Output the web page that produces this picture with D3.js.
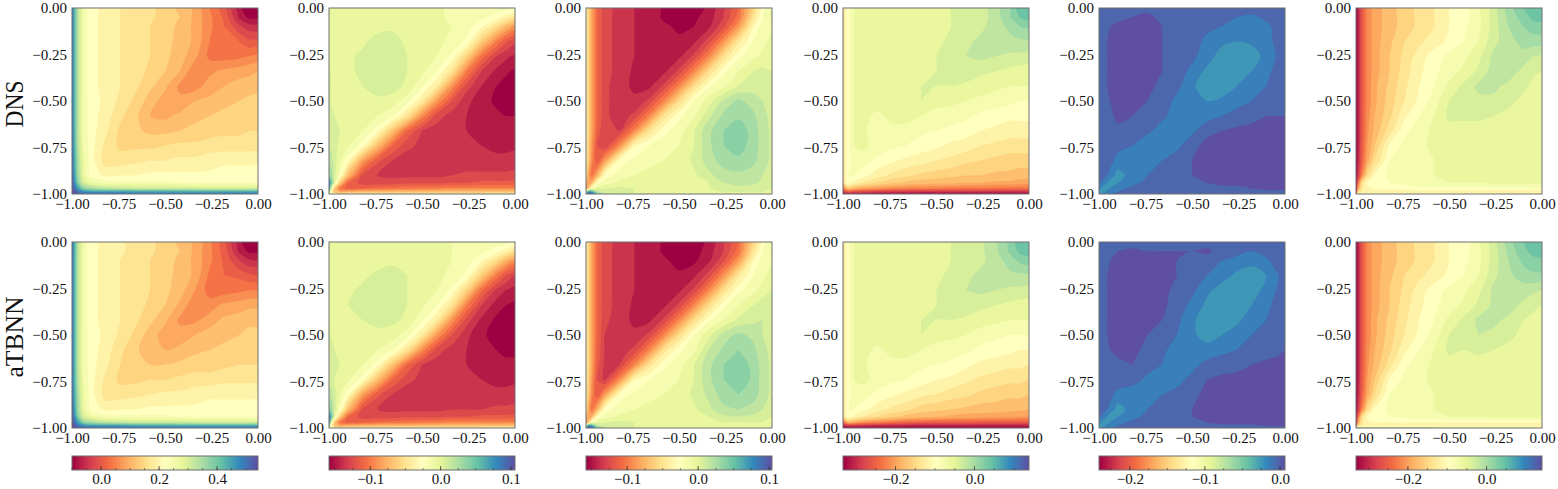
<!DOCTYPE html>
<html>
<head>
<meta charset="utf-8">
<script src="https://cdn.jsdelivr.net/npm/d3@7"></script>
<style>
  html, body { margin: 0; padding: 0; background: #fff; }
  svg { display: block; }
  text { font-family: "Liberation Serif", serif; fill: #111; }
</style>
</head>
<body>
<div id="chart"></div>
<script>
// grid the fields were read on (not evenly spaced, walls need more points)
const gridX = [-1,-.99,-.97,-.94,-.9,-.82,-.74,-.66,-.58,-.5,-.42,-.34,-.26,-.18,-.1,-.05,0];
const gridY = [0,-.05,-.1,-.18,-.26,-.34,-.42,-.5,-.58,-.66,-.74,-.82,-.9,-.94,-.97,-.99,-1];

const rowLabels = ["DNS", "aTBNN"];
const rowLabelLength = [47, 81];
const rowLabelMiddle = [104, 337];
const axisTicks = [-1, -0.75, -0.5, -0.25, 0];

// colourbar ranges and ticks, one entry per column
const barMin = [-0.1, -0.1586, -0.158, -0.333, -0.241, -0.332];
const barMax = [0.541, 0.1057, 0.104, 0.138, 0.0066, 0.141];
const barTicks = [[0, 0.2, 0.4], [-0.1, 0, 0.1], [-0.1, 0, 0.1], [-0.2, 0], [-0.2, -0.1, 0], [-0.2, 0]];
const barMinorStep = [0.05, 0.025, 0.025, 0.05, 0.025, 0.05];

const dns1 = [
92,84,67,55,49,47,44,42,41,38,35,31,24,17,5,1,1,
92,84,67,55,49,47,44,42,41,38,36,31,25,19,7,3,3,
92,84,67,55,49,47,44,42,40,38,35,31,25,20,13,10,9,
92,84,67,55,49,47,44,42,40,37,35,31,24,21,20,17,17,
92,84,67,55,49,47,44,42,40,37,34,29,23,22,23,24,25,
92,84,67,55,49,47,44,42,39,36,32,25,27,29,30,31,32,
92,84,67,55,49,47,44,41,37,33,27,26,30,32,34,34,35,
92,84,67,55,50,47,43,39,34,30,29,32,33,35,36,37,37,
92,84,67,55,50,46,41,37,32,31,33,35,36,37,38,38,38,
92,84,67,55,50,45,39,37,35,35,36,37,38,39,39,40,40,
92,85,68,56,50,43,39,39,39,40,41,41,42,42,42,42,42,
93,86,70,57,50,42,42,43,44,44,45,45,46,47,47,47,47,
94,88,72,58,51,47,48,48,49,49,49,49,49,50,50,50,50,
95,91,76,62,57,54,53,53,53,53,52,52,52,52,52,52,52,
97,94,86,74,70,66,65,64,64,64,63,63,62,62,62,62,62,
99,98,93,90,89,88,88,87,87,87,86,86,86,86,86,86,86,
99,99,96,93,92,92,91,90,90,90,90,90,90,90,90,90,90];
const dns2 = [
57,57,57,57,57,57,58,58,58,58,57,55,54,54,54,54,52,
58,58,58,58,58,58,58,58,58,58,57,55,54,53,50,46,42,
58,58,58,58,58,58,58,59,59,58,57,56,54,49,40,33,27,
59,59,59,59,59,59,62,62,59,59,57,55,51,37,24,17,13,
59,59,59,59,59,61,63,63,60,58,56,51,38,22,12,9,7,
60,60,59,59,59,61,64,63,60,57,52,42,24,12,7,5,3,
60,60,59,59,59,60,62,62,59,53,44,27,14,8,4,2,1,
61,60,59,59,59,59,59,58,54,44,28,16,9,6,3,1,1,
61,61,60,59,58,58,56,53,42,26,14,10,8,6,5,4,4,
62,62,61,60,59,56,50,35,20,12,10,9,8,6,5,5,5,
63,63,61,59,57,50,34,20,13,11,9,8,8,8,7,7,7,
66,66,62,56,50,29,17,12,10,9,9,9,9,9,9,9,10,
72,70,62,51,34,15,12,11,11,11,11,12,13,13,13,13,13,
92,80,58,36,20,14,14,14,15,15,15,16,16,17,17,17,17,
90,62,36,22,19,20,21,22,23,24,24,25,25,25,25,25,25,
70,48,36,32,33,34,35,35,35,36,36,36,36,36,36,36,36,
50,50,47,46,46,46,46,46,46,46,46,46,46,46,47,47,48];
const dns3 = [
46,40,30,20,13,11,8,7,3,1,1,5,11,20,38,50,57,
46,40,30,20,13,11,8,7,3,1,3,6,12,22,42,52,57,
46,40,30,20,13,11,8,7,5,3,4,7,15,28,48,54,56,
46,40,30,20,13,11,8,7,5,5,7,14,27,43,52,55,57,
46,40,30,20,13,11,8,6,5,7,13,25,41,51,55,57,58,
46,40,30,20,13,11,7,5,7,13,25,40,51,56,60,61,60,
46,40,30,20,13,10,7,7,13,25,40,51,55,60,62,63,62,
46,40,30,20,13,10,9,13,25,40,52,58,65,69,66,64,63,
46,40,30,20,13,10,13,25,42,51,55,63,69,71,69,65,63,
46,40,30,19,12,12,25,42,51,54,60,67,72,75,70,66,63,
45,39,28,16,12,26,48,52,54,56,60,67,72,74,70,66,63,
45,38,26,16,28,50,53,55,56,57,61,66,70,71,69,66,63,
42,32,22,32,50,54,56,57,57,57,59,63,66,67,66,64,62,
30,28,32,50,54,57,58,58,58,58,58,60,64,65,65,63,61,
20,35,52,58,60,61,60,59,59,59,59,60,62,63,62,61,60,
60,90,88,68,62,60,60,59,59,59,59,59,60,60,60,60,59,
70,95,94,75,65,62,60,59,59,59,59,58,58,58,58,58,58];
const dns4 = [
41,46,51,56,58,58,58,58,58,58,60,61,62,66,72,79,80,
41,46,51,56,58,58,58,58,58,58,60,61,62,66,72,76,78,
41,46,51,56,58,58,58,58,58,59,60,61,63,66,69,72,73,
41,46,51,56,58,58,58,58,58,59,61,63,65,66,67,67,67,
41,46,51,56,58,58,58,58,58,60,61,64,65,64,63,63,62,
41,46,51,56,58,58,58,58,59,60,61,63,61,60,59,58,58,
41,46,51,56,58,58,58,58,60,60,60,59,58,57,56,56,56,
41,46,51,56,58,58,58,58,60,58,57,56,55,54,53,52,52,
41,46,51,56,58,55,57,57,56,54,54,53,51,50,49,49,49,
41,46,51,56,57,54,55,55,53,52,51,50,48,47,46,46,46,
41,46,51,56,57,55,53,52,50,49,47,46,44,43,42,42,42,
40,46,51,55,54,51,49,47,46,44,43,41,40,39,38,38,38,
38,46,52,52,50,46,43,41,39,38,37,36,36,35,35,34,34,
34,46,50,47,44,40,37,35,34,33,33,32,32,31,31,30,30,
20,28,36,33,30,28,26,25,24,24,23,23,23,22,22,22,22,
5,12,15,13,12,10,9,9,8,8,8,8,8,8,8,8,8,
1,3,4,4,4,4,3,3,3,3,3,3,3,3,3,3,3];
const dns5 = [
94,94,94,94,94,95,95,94,94,94,94,94,94,94,94,94,94,
94,94,94,95,95,96,97,95,94,94,94,93,92,91,93,94,94,
94,94,94,96,97,97,97,96,95,94,93,92,90,90,91,93,94,
94,94,95,97,97,98,98,96,95,94,91,89,88,89,90,93,94,
94,94,95,97,97,98,98,96,94,93,90,86,84,85,90,92,94,
94,94,95,97,97,98,97,96,94,91,87,85,85,88,91,93,94,
94,94,95,97,97,97,97,95,93,89,85,85,88,90,92,94,95,
94,94,95,96,97,97,96,94,91,89,88,89,91,92,94,95,95,
94,94,94,95,97,96,95,93,90,89,90,92,93,95,96,96,96,
94,94,94,94,95,95,93,90,89,91,95,96,97,97,97,97,97,
94,94,94,94,93,92,89,89,91,95,97,97,97,97,97,97,97,
94,94,94,93,91,89,90,92,94,96,97,97,97,98,98,98,98,
94,94,93,91,86,90,92,94,95,96,97,97,97,97,97,97,97,
92,92,90,85,88,91,93,94,95,95,96,97,97,97,97,97,97,
90,88,84,88,91,93,94,94,94,95,95,95,95,96,97,97,97,
84,84,88,91,92,93,94,94,94,94,94,94,95,95,95,95,95,
80,88,90,92,93,94,94,94,94,94,94,94,94,94,94,94,94];
const dns6 = [
0,6,16,25,30,34,38,41,44,48,50,55,62,70,76,79,80,
0,6,16,25,30,34,38,41,44,48,50,55,62,69,74,77,78,
0,6,16,25,30,34,38,41,44,48,51,55,62,68,72,74,74,
0,6,16,25,30,35,40,43,46,49,52,56,63,66,70,70,70,
0,6,16,25,30,36,41,46,50,53,55,59,65,68,66,64,63,
0,6,16,25,30,36,42,47,51,54,57,61,66,66,63,61,60,
0,6,16,25,31,37,43,48,52,57,61,65,65,63,61,59,58,
0,6,16,25,31,38,44,49,54,60,62,63,63,61,59,58,58,
0,6,16,26,32,39,47,52,56,61,61,61,60,59,58,58,58,
0,6,16,27,33,42,51,54,57,58,58,58,58,58,58,58,58,
0,6,17,28,36,49,53,55,57,57,57,57,57,57,57,57,57,
0,7,18,30,40,52,54,55,56,56,57,57,57,57,57,57,57,
1,10,24,40,49,53,54,55,56,57,57,57,57,57,57,57,57,
2,20,40,49,51,52,53,54,55,56,56,56,57,57,57,57,57,
3,28,43,47,49,50,50,51,51,51,51,51,51,51,51,52,52,
8,40,44,44,44,44,44,44,44,44,44,44,44,44,44,44,44,
20,50,52,52,52,52,52,52,52,52,52,52,52,52,52,52,52];

const tbnn1 = [
92,85,67,55,49,47,45,42,41,38,35,31,25,17,5,1,1,
92,85,67,55,49,47,45,42,41,38,36,31,25,18,7,3,3,
92,85,67,55,49,47,44,42,40,38,35,31,25,19,12,9,8,
92,85,67,55,49,47,44,42,40,37,35,31,23,20,19,17,16,
92,85,67,55,49,47,44,42,40,37,34,28,22,22,23,24,24,
92,85,67,55,49,47,44,42,39,36,31,25,26,29,30,31,31,
92,85,67,55,49,47,44,41,37,33,27,27,30,33,34,35,35,
92,85,67,55,50,47,43,39,34,30,30,32,34,35,36,37,37,
92,85,67,55,50,46,41,37,33,32,33,35,36,37,38,39,39,
92,85,67,55,50,45,40,38,36,36,37,38,38,39,40,40,40,
92,85,68,56,50,43,39,39,40,40,41,42,42,43,43,43,43,
93,86,70,57,50,42,42,43,44,45,45,46,47,47,47,47,47,
94,88,72,58,51,47,48,48,49,49,49,49,50,50,50,50,50,
95,91,76,62,57,54,53,53,53,53,52,52,52,52,52,52,52,
97,94,86,74,70,66,65,64,64,64,63,63,62,62,62,62,62,
99,98,93,90,89,88,88,87,87,87,86,86,86,86,86,86,86,
99,99,96,93,91,91,90,90,89,89,89,89,89,89,89,89,89];
const tbnn2 = [
56,56,57,57,56,57,56,57,57,57,57,56,54,54,54,54,52,
57,57,57,57,57,57,58,58,58,58,57,56,54,53,50,46,41,
57,57,57,58,58,58,58,59,58,58,57,56,54,49,40,32,26,
58,58,58,58,59,59,61,62,60,59,57,55,51,37,23,16,12,
59,59,59,59,59,61,63,63,60,58,56,51,38,21,11,8,6,
59,59,59,59,60,62,63,63,60,57,52,42,24,12,6,4,3,
60,59,59,59,59,60,62,61,59,53,44,27,14,7,3,1,1,
60,60,59,59,59,59,58,58,54,44,28,16,9,5,2,1,1,
61,60,60,59,58,58,56,53,42,26,14,10,8,5,4,3,3,
61,61,60,60,59,56,50,35,20,12,10,9,8,6,5,5,5,
62,62,60,59,57,50,34,20,13,11,9,8,8,8,7,7,7,
66,66,62,56,50,29,17,12,10,9,9,9,9,9,9,9,10,
74,72,62,51,34,15,12,11,11,11,11,12,12,12,13,13,13,
94,82,58,36,20,14,14,14,15,15,15,16,16,17,17,17,17,
92,62,36,22,19,20,21,22,23,24,24,25,25,25,25,25,25,
72,48,36,32,33,34,35,35,35,36,36,36,36,36,36,36,36,
50,50,47,46,46,46,46,46,46,46,46,46,46,46,47,47,48];
const tbnn3 = [
45,40,30,20,13,11,8,7,3,1,1,5,11,20,38,50,56,
45,40,30,20,13,11,8,7,3,1,2,6,12,22,42,52,57,
45,40,30,20,13,11,8,7,5,2,3,7,15,28,48,54,56,
45,40,30,20,13,11,8,7,5,5,7,14,27,43,52,55,58,
45,40,30,20,13,11,8,6,5,7,13,25,41,51,55,58,60,
45,40,30,20,13,11,7,5,7,13,25,40,51,56,60,62,60,
45,40,30,20,13,10,7,7,13,25,40,51,56,61,63,64,61,
45,40,30,20,12,10,9,13,25,40,52,59,66,69,67,64,62,
45,40,30,19,12,10,13,25,42,51,55,64,69,72,69,65,63,
45,40,30,18,11,12,25,42,51,54,60,67,72,74,71,66,63,
44,39,28,16,11,26,48,52,54,56,60,67,72,75,71,66,63,
44,38,26,16,28,50,53,55,56,57,61,65,70,72,70,66,63,
42,32,22,32,50,54,56,57,57,58,59,63,67,68,66,64,62,
30,28,32,50,54,57,58,58,58,58,58,60,63,64,63,61,60,
20,35,52,58,60,61,60,59,59,59,59,59,60,60,60,60,59,
60,92,90,68,62,60,60,59,59,59,59,59,59,59,59,59,58,
72,96,95,75,65,62,60,59,59,59,59,58,58,58,58,58,58];
const tbnn4 = [
41,46,51,56,58,58,58,58,58,58,60,61,63,67,73,79,80,
41,46,51,56,58,58,58,58,58,58,60,61,63,67,73,77,78,
41,46,51,56,58,58,58,58,58,59,60,61,63,66,70,73,74,
41,46,51,56,58,58,58,58,58,59,61,63,65,66,67,67,67,
41,46,51,56,58,58,58,58,58,60,61,64,65,64,63,63,62,
41,46,51,56,58,58,58,58,59,60,61,63,61,60,59,58,58,
41,46,51,56,58,58,58,58,60,60,60,59,58,57,56,56,56,
41,46,51,56,58,58,58,58,60,58,57,56,54,53,52,52,52,
41,46,51,56,58,55,57,57,56,54,54,53,51,50,49,48,48,
41,46,51,56,57,54,55,55,53,52,51,49,47,46,45,45,44,
41,46,51,56,57,55,53,52,50,48,47,45,43,42,41,41,40,
40,46,51,55,54,51,49,47,45,44,42,41,39,38,37,37,36,
38,46,52,52,50,46,43,41,38,37,36,35,34,34,33,33,32,
34,46,50,47,44,40,37,34,33,32,31,30,30,29,29,28,28,
16,24,32,30,27,24,22,20,19,18,18,18,17,17,17,17,17,
3,6,8,8,7,6,5,5,5,5,5,5,5,5,5,5,5,
1,2,3,3,3,3,3,2,2,2,2,2,2,2,2,2,2];
const tbnn5 = [
94,94,94,94,94,94,95,94,95,95,94,94,94,94,94,94,92,
94,94,94,95,96,97,96,96,96,96,97,94,93,92,94,94,94,
94,94,94,96,97,97,97,97,96,95,94,92,91,90,91,94,94,
94,94,95,97,97,98,98,97,96,94,92,90,87,85,88,91,94,
94,94,95,97,97,98,98,97,95,93,89,86,84,85,90,92,94,
94,94,95,97,97,98,97,97,94,91,87,85,84,88,91,93,94,
94,94,95,97,97,97,97,96,93,89,85,84,87,90,92,94,94,
94,94,95,97,97,97,96,94,92,89,86,88,90,92,94,94,95,
94,94,94,96,97,97,95,93,90,89,90,91,92,93,94,95,96,
94,94,94,95,95,96,94,92,90,91,93,94,95,96,97,97,97,
94,94,94,94,94,94,91,89,91,93,96,97,97,97,97,97,97,
94,94,94,93,91,89,90,92,93,95,97,97,97,97,98,98,98,
94,94,93,91,86,90,92,94,95,96,97,97,97,97,97,97,97,
92,92,90,85,88,91,93,94,95,96,96,97,97,97,97,97,97,
90,88,84,88,91,93,94,94,95,95,96,97,97,97,97,97,97,
84,84,88,91,92,93,94,94,94,95,94,95,95,95,96,96,96,
80,88,90,92,93,94,94,94,94,94,94,94,94,94,94,94,94];
const tbnn6 = [
0,6,16,25,30,34,38,41,44,48,50,55,62,70,76,79,79,
0,6,16,25,30,34,38,41,44,48,50,55,62,69,75,77,78,
0,6,16,25,30,34,38,41,44,48,51,55,62,68,73,75,75,
0,6,16,25,30,35,40,43,46,49,52,56,63,67,70,71,71,
0,6,16,25,30,36,41,46,50,53,55,59,65,68,66,65,64,
0,6,16,25,30,36,42,47,51,54,57,61,65,66,63,61,60,
0,6,16,25,31,37,43,48,52,57,61,65,65,63,60,59,58,
0,6,16,25,31,38,44,49,54,60,61,64,63,61,59,58,58,
0,6,16,26,32,39,47,52,56,61,60,61,60,59,58,58,58,
0,6,16,27,33,42,51,54,57,58,58,58,58,58,58,58,58,
0,6,17,28,36,49,53,55,57,57,57,57,57,57,57,57,57,
0,7,18,30,40,52,54,55,56,56,57,57,57,57,57,57,57,
1,10,24,40,49,53,54,55,56,57,57,57,57,57,57,57,57,
2,20,40,49,51,52,53,54,55,56,56,56,57,57,57,57,57,
3,28,43,47,48,48,48,48,48,48,48,48,48,48,48,48,48,
10,42,44,44,44,44,44,44,44,44,44,44,44,44,44,44,44,
90,75,72,72,70,70,70,70,68,66,66,66,64,62,60,60,58];

const fields = [
  [dns1, dns2, dns3, dns4, dns5, dns6],
  [tbnn1, tbnn2, tbnn3, tbnn4, tbnn5, tbnn6]
];

// matplotlib Spectral
const spectral = d3.scaleLinear()
  .domain(d3.range(11).map(i => i * 10))
  .range(["#9e0142","#d53e4f","#f46d43","#fdae61","#fee08b","#ffffbf","#e6f598","#abdda4","#66c2a5","#3288bd","#5e4fa2"]);

const levels = d3.range(0, 100, 4);
// contourf stretches the colours over the band index, first band full red, last full purple
const bandColor = d3.scaleLinear().domain([0, 96]).range([0, 100]);

const width = 1558, height = 489;
const panelLeft = [72, 329, 586, 843, 1099, 1356];
const rowTop = [8, 242];
const panelSize = 186;
const barTop = 456, barHeight = 14;

const svg = d3.select("#chart").append("svg")
  .attr("width", width)
  .attr("height", height);

const defs = svg.append("defs");
defs.append("linearGradient")
  .attr("id", "spectralGrad")
  .selectAll("stop")
  .data(spectral.domain())
  .join("stop")
  .attr("offset", d => d + "%")
  .attr("stop-color", d => spectral(d));
defs.append("clipPath").attr("id", "panelClip")
  .append("rect").attr("width", panelSize).attr("height", panelSize);

const contours = d3.contours().size([gridX.length, gridY.length]).thresholds(levels);

const frameColor = "#6f6f6f";
const axisFormat = d3.format(".2f");

// d3.contours puts sample i at i + 0.5, the outer edge is pushed past the frame and clipped
const indexDomain = n => [0].concat(d3.range(n).map(i => i + 0.5), [n]);
const xIndex = d3.scaleLinear().domain(indexDomain(gridX.length)).range([-1.05].concat(gridX, [0.05]));
const yIndex = d3.scaleLinear().domain(indexDomain(gridY.length)).range([0.05].concat(gridY, [-1.05]));

rowTop.forEach((top, r) => {
  panelLeft.forEach((left, c) => {
    const xScale = d3.scaleLinear().domain([-1, 0]).range([0, panelSize]);
    const yScale = d3.scaleLinear().domain([-1, 0]).range([panelSize, 0]);

    const ring = d3.line()
      .x(p => xScale(xIndex(p[0])))
      .y(p => yScale(yIndex(p[1])))
      .curve(d3.curveCatmullRomClosed.alpha(0.5));

    const g = svg.append("g").attr("transform", `translate(${left},${top})`);

    g.append("g")
      .attr("clip-path", "url(#panelClip)")
      .selectAll("path")
      .data(contours(fields[r][c]))
      .join("path")
      .attr("d", d => d.coordinates.map(poly => poly.map(rg => ring(rg.slice(0, -1))).join("")).join(""))
      .attr("fill-rule", "evenodd")
      .attr("fill", d => spectral(bandColor(d.value)));

    g.append("rect")
      .attr("width", panelSize)
      .attr("height", panelSize)
      .attr("fill", "none")
      .attr("stroke", frameColor)
      .attr("stroke-width", 1);

    const xAxis = g.append("g")
      .attr("transform", `translate(0,${panelSize})`)
      .call(d3.axisBottom(xScale).tickValues(axisTicks).tickSize(0).tickPadding(4).tickFormat(axisFormat));
    const yAxis = g.append("g")
      .call(d3.axisLeft(yScale).tickValues(axisTicks).tickSize(0).tickPadding(5).tickFormat(axisFormat));
    [xAxis, yAxis].forEach(a => {
      a.select(".domain").remove();
      a.selectAll("text").attr("font-family", "Liberation Serif").attr("font-size", 15).attr("fill", "#111");
    });
  });
});

// row titles
rowLabels.forEach((label, r) => {
  svg.append("text")
    .attr("transform", `translate(23,${rowLabelMiddle[r]}) rotate(-90)`)
    .attr("text-anchor", "middle")
    .attr("font-size", 25)
    .attr("textLength", rowLabelLength[r])
    .attr("lengthAdjust", "spacingAndGlyphs")
    .text(label);
});

// colourbars
panelLeft.forEach((left, c) => {
  const barScale = d3.scaleLinear().domain([barMin[c], barMax[c]]).range([0, panelSize]);
  const g = svg.append("g").attr("transform", `translate(${left},${barTop})`);

  g.append("rect")
    .attr("width", panelSize)
    .attr("height", barHeight)
    .attr("fill", "url(#spectralGrad)")
    .attr("stroke", frameColor)
    .attr("stroke-width", 1);

  const first = Math.ceil(barMin[c] / barMinorStep[c]);
  const last = Math.floor(barMax[c] / barMinorStep[c]);
  const minor = d3.range(first, last + 1).map(i => i * barMinorStep[c]);
  g.selectAll("line.minor")
    .data(minor)
    .join("line")
    .attr("class", "minor")
    .attr("x1", d => barScale(d))
    .attr("x2", d => barScale(d))
    .attr("y1", barHeight)
    .attr("y2", barHeight - 2)
    .attr("stroke", "#333")
    .attr("stroke-width", 0.6);
  g.selectAll("line.major")
    .data(barTicks[c])
    .join("line")
    .attr("class", "major")
    .attr("x1", d => barScale(d))
    .attr("x2", d => barScale(d))
    .attr("y1", barHeight)
    .attr("y2", barHeight - 4)
    .attr("stroke", "#333")
    .attr("stroke-width", 0.7);

  const axis = g.append("g")
    .attr("transform", `translate(0,${barHeight})`)
    .call(d3.axisBottom(barScale).tickValues(barTicks[c]).tickSize(0).tickPadding(3).tickFormat(d3.format(".1f")));
  axis.select(".domain").remove();
  axis.selectAll("text").attr("font-family", "Liberation Serif").attr("font-size", 15).attr("fill", "#111");
});
</script>
</body>
</html>
